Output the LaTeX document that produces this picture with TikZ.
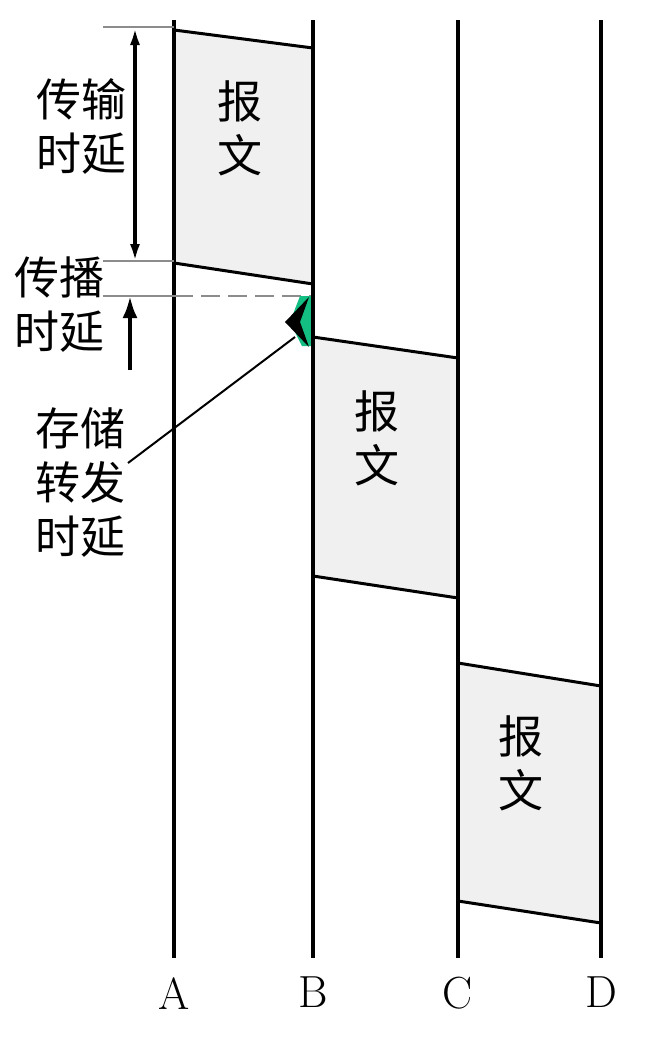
\documentclass[tikz,border=0pt]{standalone}
\usepackage{fontspec}
\newfontfamily\cjk{Noto Sans CJK SC}
\usetikzlibrary{arrows.meta}

\begin{document}
\begin{tikzpicture}[x=1pt,y=-1pt,
  station/.style={line width=4pt},
  edge/.style={line width=3pt},
  packet/.style={fill=black!6},
  guide/.style={draw=black!45,line width=2.5pt},
  lbl/.style={font=\cjk\fontsize{45}{54}\selectfont,align=center,inner sep=0pt}]
\useasboundingbox (0,0) rectangle (652,1042);
%% packets
\fill[packet] (174,30) -- (313,48) -- (313,284) -- (174,263) -- cycle;
\fill[packet] (313,337) -- (458,358) -- (458,598) -- (313,576) -- cycle;
\fill[packet] (458,663) -- (601,686) -- (601,923) -- (458,901) -- cycle;
\draw[edge] (174,30) -- (313,48);
\draw[edge] (174,263) -- (313,284);
\draw[edge] (313,337) -- (458,358);
\draw[edge] (313,576) -- (458,598);
\draw[edge] (458,663) -- (601,686);
\draw[edge] (458,901) -- (601,923);
\node[lbl] (msg1) at (240,128) {报\\文};
\node[lbl] (msg2) at (377,438) {报\\文};
\node[lbl] (msg3) at (521,763) {报\\文};
%% stations
\foreach \n/\x in {A/174,B/313,C/458,D/601}{
  \draw[station] (\x,20) coordinate (\n top) -- (\x,958) coordinate (\n bot);
  \node[anchor=north,inner sep=0pt,font=\fontsize{45}{45}\selectfont] (\n) at (\x,977) {\n};
}
%% delays
\draw[guide] (103,27) coordinate (t0) -- (Atop |- t0);
\draw[guide] (103,261) coordinate (t1) -- (Atop |- t1);
\draw[draw=black!45,line width=1.5pt] (103,296) coordinate (t2) -- (Atop |- t2);
\draw[draw=black!45,line width=2.5pt,dash pattern=on 19pt off 8pt] (Atop |- t2) -- (Btop |- t2);
\coordinate (d0) at (135,27);
\coordinate (d1) at (135,262);
\draw[{Latex[length=18pt,width=10pt]}-{Latex[length=18pt,width=10pt]},line width=4pt] (d0) -- (d1);
\coordinate (p0) at (130,370);
\coordinate (p1) at (130,296);
\draw[-{Latex[length=22pt,width=15pt]},line width=4pt] (p0) -- (p1);
\node[lbl] (trans) at (81,126) {传输\\时延};
\node[lbl] (prop) at (60,305) {传播\\时延};
\node[lbl] (store) at (80,483) {存储\\转发\\时延};
%% store and forward pointer
\coordinate (s0) at (128,463);
\coordinate (fwd) at (295,337);
\draw[line width=2pt] (s0) -- (fwd);
\fill[fill={rgb,255:red,20;green,190;blue,130}] (300,296) -- (313,296) -- (313,346) -- (302,346) -- (290,322) -- cycle;
\fill[black] (285,322) -- (309,297) -- (300,322) -- (309,347) -- cycle;
\draw[station] (Btop) -- (Bbot);
\end{tikzpicture}
\end{document}
